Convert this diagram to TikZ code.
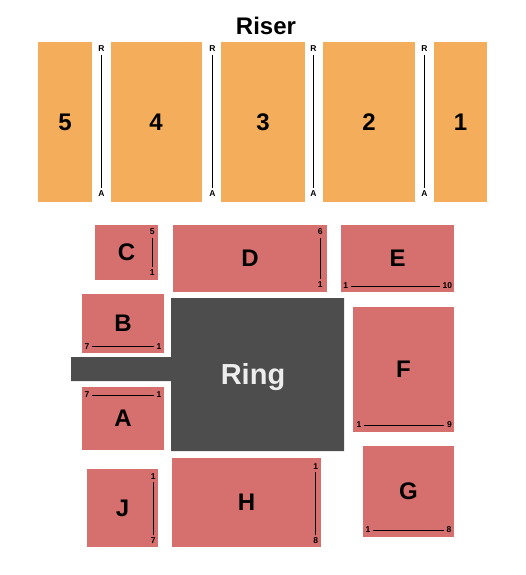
\documentclass[tikz,border=0pt]{standalone}
\usepackage{fontspec}
\setmainfont{Liberation Sans}
\definecolor{riser}{RGB}{243,173,91}
\definecolor{floor}{RGB}{214,112,111}
\definecolor{ringc}{RGB}{77,77,77}
\begin{document}
\begin{tikzpicture}[x=1pt,y=-1pt,
  rblock/.style={fill=riser,inner sep=0,font=\fontsize{24}{24}\selectfont\bfseries},
  sect/.style={fill=floor,inner sep=0,font=\fontsize{24}{24}\selectfont\bfseries},
  small/.style={inner sep=2.5pt,font=\fontsize{8.5}{8.5}\selectfont\bfseries},
  rowline/.style={draw=black,line width=1pt}]
\useasboundingbox (0,0) rectangle (525,575);
% title
\node[font=\fontsize{24}{24}\selectfont\bfseries] (riser) at (266,26) {Riser};
% riser blocks
\node[rblock,minimum width=54,minimum height=160] (s5) at (65,122) {5};
\node[rblock,minimum width=91,minimum height=160] (s4) at (156,122) {4};
\node[rblock,minimum width=84,minimum height=160] (s3) at (263,122) {3};
\node[rblock,minimum width=92,minimum height=160] (s2) at (369,122) {2};
\node[rblock,minimum width=53,minimum height=160] (s1) at (460.5,122) {1};
% aisles
\foreach \n/\x in {a/101.5,b/212.5,c/313.5,d/424.5}{
  \node[small] (R\n) at (\x,49) {R};
  \node[small] (A\n) at (\x,194) {A};
  \draw[rowline] (R\n) -- (A\n);
}
% floor sections
\node[sect,minimum width=63,minimum height=55] (C) at (126.5,252.5) {C};
\node[sect,minimum width=154,minimum height=67] (D) at (250,258.5) {D};
\node[sect,minimum width=113,minimum height=67] (E) at (397.5,258.5) {E};
\node[sect,minimum width=82,minimum height=59] (B) at (123,323.5) {B};
\node[sect,minimum width=101,minimum height=125] (F) at (403.5,369.5) {F};
\node[sect,minimum width=82,minimum height=63] (A) at (123,418.5) {A};
\node[sect,minimum width=71,minimum height=78] (J) at (122.5,508) {J};
\node[sect,minimum width=149,minimum height=89] (H) at (246.5,502.5) {H};
\node[sect,minimum width=91,minimum height=91] (G) at (408.5,491.5) {G};
% ring
\fill[ringc] (171,298) -- (344,298) -- (344,451) -- (171,451) -- (171,381) -- (71,381) -- (71,357) -- (171,357) -- cycle;
\node[text=white!93!black,font=\fontsize{29}{29}\selectfont\bfseries] (ring) at (253,377) {Ring};
% row labels and lines
\node[small] (C5) at (152.3,232) {5}; \node[small] (C1) at (152.3,273) {1};
\draw[rowline] (C5) -- (C1);
\node[small] (D6) at (320.3,232) {6}; \node[small] (D1) at (320.3,284.5) {1};
\draw[rowline] (D6) -- (D1);
\node[small] (E1) at (345.7,286) {1}; \node[small] (E10) at (447.3,286) {10};
\draw[rowline] (E1) -- (E10);
\node[small] (B7) at (87,346.7) {7}; \node[small] (B1) at (159,346.7) {1};
\draw[rowline] (B7) -- (B1);
\node[small] (F1) at (359,425) {1}; \node[small] (F9) at (449.5,425) {9};
\draw[rowline] (F1) -- (F9);
\node[small] (A7) at (87,395) {7}; \node[small] (A1) at (159,395) {1};
\draw[rowline] (A7) -- (A1);
\node[small] (J1) at (153.3,476.5) {1}; \node[small] (J7) at (153.3,541) {7};
\draw[rowline] (J1) -- (J7);
\node[small] (H1) at (315.7,466.5) {1}; \node[small] (H8) at (315.7,541) {8};
\draw[rowline] (H1) -- (H8);
\node[small] (G1) at (368,530) {1}; \node[small] (G8) at (449,530) {8};
\draw[rowline] (G1) -- (G8);
\end{tikzpicture}
\end{document}
